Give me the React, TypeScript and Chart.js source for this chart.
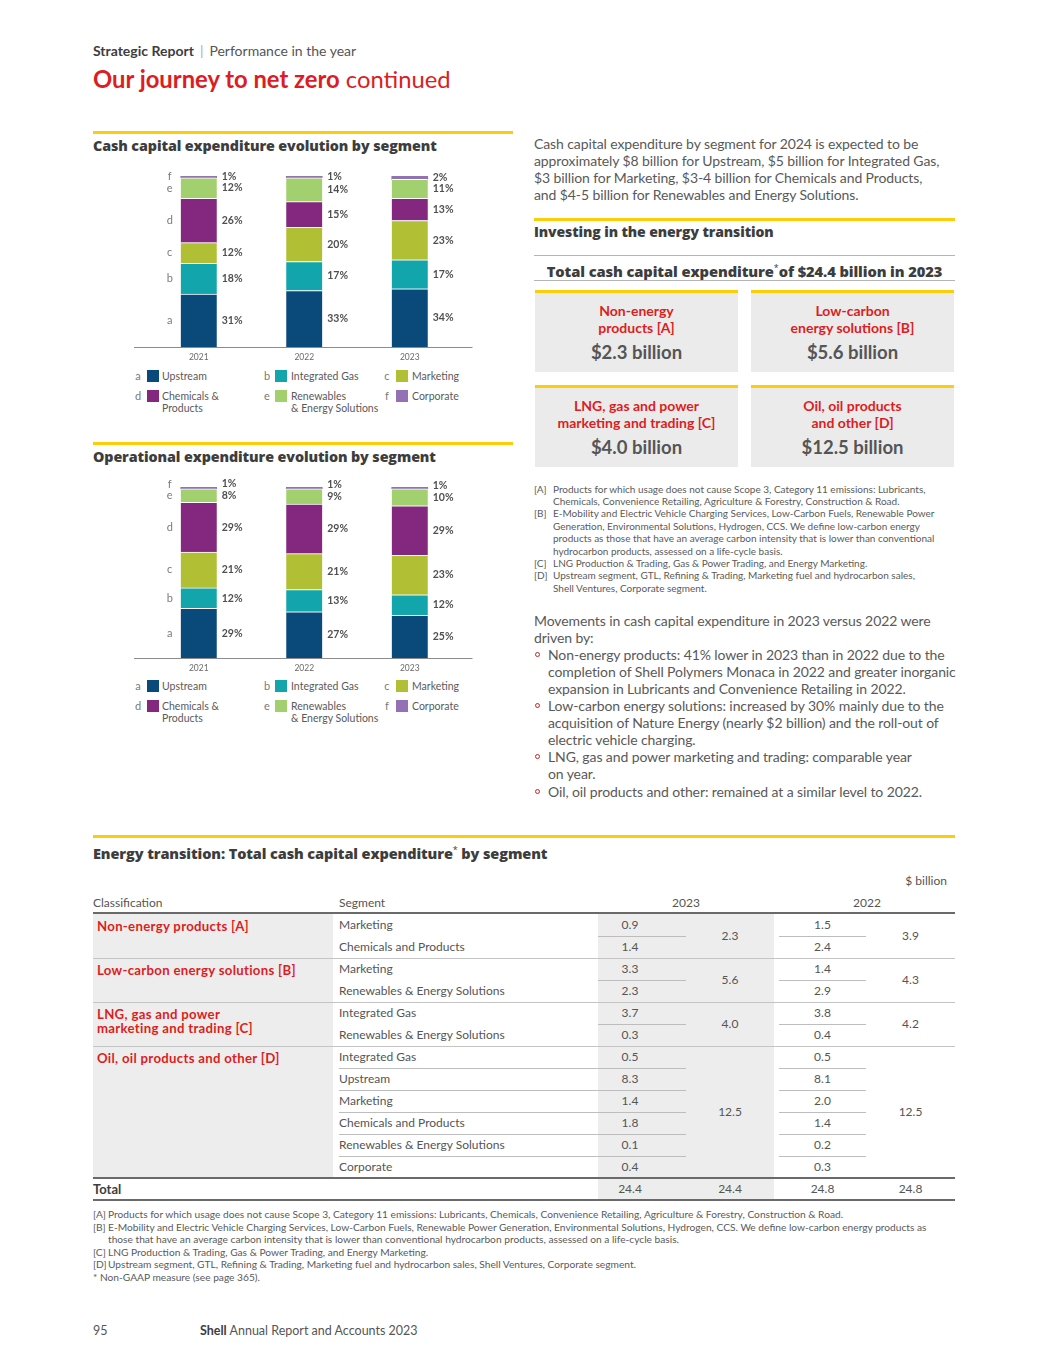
import React, { useEffect, useRef } from 'react';
import { Chart, registerables } from 'chart.js';

Chart.register(...registerables);

const FONT = "Lato, 'Open Sans', sans-serif";
const HEAD_FONT = "'Open Sans', Lato, sans-serif";
const RED = '#DD1D21';
const YELLOW = '#FBCE07';
const GRAY = '#595959';
const DARK = '#3d3d3d';

// ---------- chart data ----------
const years = ['2021', '2022', '2023'];
const segmentLetters = ['a', 'b', 'c', 'd', 'e', 'f'];
const segmentNames = ['Upstream', 'Integrated Gas', 'Marketing', 'Chemicals & Products', 'Renewables & Energy Solutions', 'Corporate'];
const legendLabels = ['Upstream', 'Integrated Gas', 'Marketing', 'Chemicals &\nProducts', 'Renewables\n& Energy Solutions', 'Corporate'];
const segmentColors = ['#0A4A7B', '#12A6AC', '#B1BF34', '#83277F', '#A3D06E', '#9471B4'];

const capexUpstream = [31, 33, 34];
const capexIntegratedGas = [18, 17, 17];
const capexMarketing = [12, 20, 23];
const capexChemicals = [26, 15, 13];
const capexRenewables = [12, 14, 11];
const capexCorporate = [1, 1, 2];

const opexUpstream = [29, 27, 25];
const opexIntegratedGas = [12, 13, 12];
const opexMarketing = [21, 21, 23];
const opexChemicals = [29, 29, 29];
const opexRenewables = [8, 9, 10];
const opexCorporate = [1, 1, 1];

// ---------- table data ----------
const classificationLabels = ['Non-energy products [A]', 'Low-carbon energy solutions [B]', 'LNG, gas and power\nmarketing and trading [C]', 'Oil, oil products and other [D]'];
const groupSegments = [
  ['Marketing', 'Chemicals and Products'],
  ['Marketing', 'Renewables & Energy Solutions'],
  ['Integrated Gas', 'Renewables & Energy Solutions'],
  ['Integrated Gas', 'Upstream', 'Marketing', 'Chemicals and Products', 'Renewables & Energy Solutions', 'Corporate'],
];
const groupValues2023 = [[0.9, 1.4], [3.3, 2.3], [3.7, 0.3], [0.5, 8.3, 1.4, 1.8, 0.1, 0.4]];
const groupValues2022 = [[1.5, 2.4], [1.4, 2.9], [3.8, 0.4], [0.5, 8.1, 2.0, 1.4, 0.2, 0.3]];
const groupTotals2023 = [2.3, 5.6, 4.0, 12.5];
const groupTotals2022 = [3.9, 4.3, 4.2, 12.5];
const grandTotal2023 = 24.4;
const grandTotal2022 = 24.8;

const boxTitles = ['Non-energy\nproducts [A]', 'Low-carbon\nenergy solutions [B]', 'LNG, gas and power\nmarketing and trading [C]', 'Oil, oil products\nand other [D]'];
const boxValues = ['$2.3 billion', '$5.6 billion', '$4.0 billion', '$12.5 billion'];

// ---------- chart plugin ----------
const segLabelPlugin = {
  id: 'segLabels',
  afterDatasetsDraw(chart: any) {
    const { ctx, chartArea } = chart;
    const xScale = chart.scales.x;
    ctx.save();
    const by = Math.round(chartArea.bottom) + 0.5;
    ctx.strokeStyle = '#8c8c8c';
    ctx.lineWidth = 1;
    ctx.beginPath();
    ctx.moveTo(chartArea.left - 12, by);
    ctx.lineTo(chartArea.right + 10, by);
    ctx.stroke();

    ctx.textBaseline = 'middle';
    ctx.textAlign = 'center';
    ctx.fillStyle = '#6a6a6a';
    ctx.font = `8.5px ${FONT}`;
    chart.data.labels.forEach((lab: string, i: number) => {
      ctx.fillText(lab, xScale.getPixelForValue(i), chartArea.bottom + 10);
    });

    const nd = chart.data.datasets.length;
    for (let j = 0; j < chart.data.labels.length; j++) {
      const ys: number[] = [];
      for (let i = 0; i < nd; i++) {
        const el = chart.getDatasetMeta(i).data[j];
        let y = (el.y + el.base) / 2;
        if (i > 0 && ys[i - 1] - y < 11.5) y = ys[i - 1] - 11.5;
        ys.push(y);
      }
      for (let i = 0; i < nd; i++) {
        const el = chart.getDatasetMeta(i).data[j];
        const v = chart.data.datasets[i].data[j];
        ctx.textAlign = 'left';
        ctx.fillStyle = '#505050';
        ctx.font = `bold 10.5px ${FONT}`;
        ctx.fillText(`${v}%`, el.x + el.width / 2 + 5, ys[i]);
        if (j === 0) {
          ctx.textAlign = 'center';
          ctx.fillStyle = '#7a7a7a';
          ctx.font = `11px ${FONT}`;
          ctx.fillText(segmentLetters[i], el.x - el.width / 2 - 11, ys[i]);
        }
      }
    }
    ctx.restore();
  },
};

function StackedChart({ top, series }: { top: number; series: number[][] }) {
  const ref = useRef<HTMLCanvasElement | null>(null);
  useEffect(() => {
    if (!ref.current) return;
    const chart = new Chart(ref.current, {
      type: 'bar',
      data: {
        labels: years,
        datasets: series.map((vals, i) => ({
          label: segmentNames[i],
          data: vals,
          backgroundColor: segmentColors[i],
          borderColor: '#ffffff',
          borderWidth: i === series.length - 1 ? 0 : { top: 1, right: 0, bottom: 0, left: 0 },
          borderSkipped: false,
          barThickness: 36,
        })),
      },
      options: {
        responsive: false,
        animation: false,
        layout: { padding: { top: 16, bottom: 18, left: 53, right: 50.5 } },
        plugins: { legend: { display: false }, tooltip: { enabled: false } },
        scales: {
          x: { stacked: true, display: false },
          y: { stacked: true, display: false, min: 0, max: 100 },
        },
      } as any,
      plugins: [segLabelPlugin as any],
    });
    return () => chart.destroy();
  }, []);
  return (
    <canvas
      ref={ref}
      width={420}
      height={205}
      style={{ position: 'absolute', left: 93, top, width: 420, height: 205 }}
    />
  );
}

// ---------- helpers ----------
function Txt({ x, y, lh = 16, size = 13, weight = 400, color = GRAY, align = 'left', w, children, style }: any) {
  return (
    <div
      style={{
        position: 'absolute',
        left: x,
        top: y - lh / 2,
        lineHeight: lh + 'px',
        fontSize: size,
        fontWeight: weight,
        color,
        whiteSpace: 'pre',
        textAlign: align,
        width: w,
        ...style,
      }}
    >
      {children}
    </div>
  );
}

function HLine({ x1, x2, y, h = 1, color = '#c4c4c4' }: any) {
  return <div style={{ position: 'absolute', left: x1, top: y, width: x2 - x1, height: h, background: color }} />;
}

function Rect({ x, y, w, h, color }: any) {
  return <div style={{ position: 'absolute', left: x, top: y, width: w, height: h, background: color }} />;
}

const headStyle = { fontFamily: HEAD_FONT, letterSpacing: -0.1 };

function Legend({ top }: { top: number }) {
  const cols = [
    { lx: 138, sx: 147, tx: 162 },
    { lx: 267, sx: 275, tx: 291 },
    { lx: 387, sx: 396, tx: 412 },
  ];
  return (
    <>
      {segmentNames.map((_, i) => {
        const c = cols[i % 3];
        const cy = top + Math.floor(i / 3) * 20;
        return (
          <React.Fragment key={i}>
            <Txt x={c.lx - 6} w={12} align="center" y={cy} lh={14} size={11} color="#7a7a7a">
              {segmentLetters[i]}
            </Txt>
            <Rect x={c.sx} y={cy - 6} w={12} h={12} color={segmentColors[i]} />
            <div
              style={{
                position: 'absolute',
                left: c.tx,
                top: cy - 6,
                lineHeight: '12px',
                fontSize: 10.5,
                color: '#5a5a5a',
                whiteSpace: 'pre',
              }}
            >
              {legendLabels[i]}
            </div>
          </React.Fragment>
        );
      })}
    </>
  );
}

function Bullet({ y }: { y: number }) {
  return (
    <div
      style={{
        position: 'absolute',
        left: 535,
        top: y - 2.5,
        width: 5,
        height: 5,
        borderRadius: '50%',
        border: `1px solid ${RED}`,
        boxSizing: 'border-box',
      }}
    />
  );
}

const fmt = (v: number) => v.toFixed(1);

function Table() {
  const rowH = 22;
  const top = 914;
  const els: any[] = [];
  let r = 0;
  els.push(<Rect key="bgc" x={93} y={top} w={240} h={264} color="#EDEDED" />);
  els.push(<Rect key="bg23" x={598} y={top} w={176} h={285} color="#EDEDED" />);
  classificationLabels.forEach((cl, g) => {
    const segs = groupSegments[g];
    const gTop = top + r * rowH;
    els.push(
      <div
        key={'cl' + g}
        style={{
          position: 'absolute',
          left: 97,
          top: gTop + 5,
          lineHeight: '14px',
          fontSize: 13.2,
          fontWeight: 700,
          letterSpacing: 0.3,
          color: RED,
          whiteSpace: 'pre',
        }}
      >
        {cl}
      </div>
    );
    segs.forEach((s, k) => {
      const cy = top + (r + k) * rowH + 11;
      els.push(<Txt key={`s${g}-${k}`} x={339} y={cy} lh={16} size={12} color="#555">{s}</Txt>);
      els.push(<Txt key={`a${g}-${k}`} x={598} w={64} align="center" y={cy} lh={16} size={12} color="#555">{fmt(groupValues2023[g][k])}</Txt>);
      els.push(<Txt key={`b${g}-${k}`} x={779} w={87} align="center" y={cy} lh={16} size={12} color="#555">{fmt(groupValues2022[g][k])}</Txt>);
      if (k < segs.length - 1) {
        const ly = top + (r + k + 1) * rowH;
        els.push(<HLine key={`l1${g}-${k}`} x1={g === 3 ? 339 : 598} x2={686} y={ly} color="#bdbdbd" />);
        els.push(<HLine key={`l2${g}-${k}`} x1={779} x2={866} y={ly} color="#bdbdbd" />);
      }
    });
    const midY = gTop + (segs.length * rowH) / 2;
    els.push(<Txt key={'t23' + g} x={686} w={88} align="center" y={midY} lh={16} size={12} color="#555">{fmt(groupTotals2023[g])}</Txt>);
    els.push(<Txt key={'t22' + g} x={866} w={89} align="center" y={midY} lh={16} size={12} color="#555">{fmt(groupTotals2022[g])}</Txt>);
    r += segs.length;
    if (g < classificationLabels.length - 1) {
      els.push(<HLine key={'gl' + g} x1={93} x2={955} y={top + r * rowH} color="#c4c4c4" />);
    }
  });
  const totTop = top + r * rowH;
  els.push(<HLine key="tl1" x1={93} x2={955} y={totTop - 1} h={2} color="#6a6a6a" />);
  const ty = totTop + 10.5;
  els.push(<Txt key="tt" x={93} y={ty} lh={16} size={13} weight={700} color="#3d3d3d">Total</Txt>);
  els.push(<Txt key="tv1" x={598} w={64} align="center" y={ty} lh={16} size={12} color="#555">{fmt(grandTotal2023)}</Txt>);
  els.push(<Txt key="tv2" x={686} w={88} align="center" y={ty} lh={16} size={12} color="#555">{fmt(grandTotal2023)}</Txt>);
  els.push(<Txt key="tv3" x={779} w={87} align="center" y={ty} lh={16} size={12} color="#555">{fmt(grandTotal2022)}</Txt>);
  els.push(<Txt key="tv4" x={866} w={89} align="center" y={ty} lh={16} size={12} color="#555">{fmt(grandTotal2022)}</Txt>);
  els.push(<HLine key="tl2" x1={93} x2={955} y={totTop + 21} h={2} color="#6a6a6a" />);
  return <>{els}</>;
}

export default function App() {
  const capex = [capexUpstream, capexIntegratedGas, capexMarketing, capexChemicals, capexRenewables, capexCorporate];
  const opex = [opexUpstream, opexIntegratedGas, opexMarketing, opexChemicals, opexRenewables, opexCorporate];
  const bodyStyle = { fontSize: 14, letterSpacing: -0.1 };
  const para1 = [
    'Cash capital expenditure by segment for 2024 is expected to be',
    'approximately $8 billion for Upstream, $5 billion for Integrated Gas,',
    '$3 billion for Marketing, $3-4 billion for Chemicals and Products,',
    'and $4-5 billion for Renewables and Energy Solutions.',
  ];
  const notesRight = [
    ['[A]', 'Products for which usage does not cause Scope 3, Category 11 emissions: Lubricants,'],
    ['', 'Chemicals, Convenience Retailing, Agriculture & Forestry, Construction & Road.'],
    ['[B]', 'E-Mobility and Electric Vehicle Charging Services, Low-Carbon Fuels, Renewable Power'],
    ['', 'Generation, Environmental Solutions, Hydrogen, CCS. We define low-carbon energy'],
    ['', 'products as those that have an average carbon intensity that is lower than conventional'],
    ['', 'hydrocarbon products, assessed on a life-cycle basis.'],
    ['[C]', 'LNG Production & Trading, Gas & Power Trading, and Energy Marketing.'],
    ['[D]', 'Upstream segment, GTL, Refining & Trading, Marketing fuel and hydrocarbon sales,'],
    ['', 'Shell Ventures, Corporate segment.'],
  ];
  const movements: [boolean, string][] = [
    [false, 'Movements in cash capital expenditure in 2023 versus 2022 were'],
    [false, 'driven by:'],
    [true, 'Non-energy products: 41% lower in 2023 than in 2022 due to the'],
    [false, 'completion of Shell Polymers Monaca in 2022 and greater inorganic'],
    [false, 'expansion in Lubricants and Convenience Retailing in 2022.'],
    [true, 'Low-carbon energy solutions: increased by 30% mainly due to the'],
    [false, 'acquisition of Nature Energy (nearly $2 billion) and the roll-out of'],
    [false, 'electric vehicle charging.'],
    [true, 'LNG, gas and power marketing and trading: comparable year'],
    [false, 'on year.'],
    [true, 'Oil, oil products and other: remained at a similar level to 2022.'],
  ];
  const notesBottom = [
    ['[A]', 'Products for which usage does not cause Scope 3, Category 11 emissions: Lubricants, Chemicals, Convenience Retailing, Agriculture & Forestry, Construction & Road.'],
    ['[B]', 'E-Mobility and Electric Vehicle Charging Services, Low-Carbon Fuels, Renewable Power Generation, Environmental Solutions, Hydrogen, CCS. We define low-carbon energy products as'],
    ['', 'those that have an average carbon intensity that is lower than conventional hydrocarbon products, assessed on a life-cycle basis.'],
    ['[C]', 'LNG Production & Trading, Gas & Power Trading, and Energy Marketing.'],
    ['[D]', 'Upstream segment, GTL, Refining & Trading, Marketing fuel and hydrocarbon sales, Shell Ventures, Corporate segment.'],
  ];
  const boxes = [
    { x: 535, y: 290 },
    { x: 751, y: 290 },
    { x: 535, y: 385 },
    { x: 751, y: 385 },
  ];

  return (
    <div
      style={{
        position: 'absolute',
        left: 0,
        top: 0,
        width: 1048,
        height: 1365,
        background: '#ffffff',
        fontFamily: FONT,
        color: GRAY,
        overflow: 'hidden',
      }}
    >
      {/* header */}
      <Txt x={93} y={51} lh={16} size={14} color={DARK}>
        <span style={{ fontWeight: 700 }}>Strategic Report</span>
        <span style={{ color: '#aaa', margin: '0 6px' }}>|</span>
        <span style={{ color: '#555' }}>Performance in the year</span>
      </Txt>
      <Txt x={93} y={79} lh={28} size={23.8} color={RED}>
        <span style={{ fontWeight: 700 }}>Our journey to net zero</span> continued
      </Txt>

      {/* left: capex chart */}
      <HLine x1={93} x2={513} y={131} h={3} color={YELLOW} />
      <Txt x={93} y={146} lh={18} size={14.3} weight={800} color={DARK} style={headStyle}>Cash capital expenditure evolution by segment</Txt>
      <StackedChart top={160} series={capex} />
      <Legend top={376} />

      {/* left: opex chart */}
      <HLine x1={93} x2={513} y={442} h={3} color={YELLOW} />
      <Txt x={93} y={457} lh={18} size={14.3} weight={800} color={DARK} style={headStyle}>Operational expenditure evolution by segment</Txt>
      <StackedChart top={471} series={opex} />
      <Legend top={686} />

      {/* right column */}
      {para1.map((l, i) => (
        <Txt key={'p' + i} x={534} y={143 + i * 17} lh={17} style={bodyStyle}>{l}</Txt>
      ))}
      <HLine x1={534} x2={955} y={218} h={3} color={YELLOW} />
      <Txt x={534} y={232} lh={18} size={14} weight={800} color={DARK} style={headStyle}>Investing in the energy transition</Txt>
      <HLine x1={534} x2={955} y={255} color="#b5b5b5" />
      <Txt x={534} w={421} align="center" y={268} lh={18} size={14.7} weight={800} color={DARK} style={headStyle}>
        Total cash capital expenditure<sup style={{ fontSize: 9, fontWeight: 400 }}>*</sup>of $24.4 billion in 2023
      </Txt>
      <HLine x1={534} x2={955} y={280} color="#b5b5b5" />
      {boxes.map((b, i) => (
        <React.Fragment key={'box' + i}>
          <Rect x={b.x} y={b.y} w={203} h={82} color="#EBEBEB" />
          <Rect x={b.x} y={b.y} w={203} h={3} color={YELLOW} />
          <div
            style={{
              position: 'absolute',
              left: b.x,
              top: b.y + 11.5,
              width: 203,
              textAlign: 'center',
              lineHeight: '17px',
              fontSize: 14,
              fontWeight: 700,
              color: RED,
              whiteSpace: 'pre',
            }}
          >
            {boxTitles[i]}
          </div>
          <Txt x={b.x} w={203} align="center" y={b.y + 62} lh={22} size={18.5} weight={700} color="#555">
            {boxValues[i]}
          </Txt>
        </React.Fragment>
      ))}
      {notesRight.map(([k, t], i) => (
        <React.Fragment key={'nr' + i}>
          {k && <Txt x={534} y={488.5 + i * 12.4} lh={12} size={10} color="#5a5a5a">{k}</Txt>}
          <Txt x={553} y={488.5 + i * 12.4} lh={12} size={10} color="#5a5a5a">{t}</Txt>
        </React.Fragment>
      ))}
      {movements.map(([b, t], i) => (
        <React.Fragment key={'m' + i}>
          {b && <Bullet y={620 + i * 17.1} />}
          <Txt x={i < 2 ? 534 : 548} y={620 + i * 17.1} lh={17} style={bodyStyle}>{t}</Txt>
        </React.Fragment>
      ))}

      {/* table */}
      <HLine x1={93} x2={955} y={835} h={3} color={YELLOW} />
      <Txt x={93} y={850} lh={18} size={14.5} weight={800} color={DARK} style={headStyle}>
        Energy transition: Total cash capital expenditure<sup style={{ fontSize: 9, fontWeight: 400 }}>*</sup> by segment
      </Txt>
      <Txt x={847} w={100} align="right" y={881} lh={16} size={12} color="#555">$ billion</Txt>
      <Txt x={93} y={903} lh={16} size={12} color="#555">Classification</Txt>
      <Txt x={339} y={903} lh={16} size={12} color="#555">Segment</Txt>
      <Txt x={598} w={176} align="center" y={903} lh={16} size={12} color="#555">2023</Txt>
      <Txt x={779} w={176} align="center" y={903} lh={16} size={12} color="#555">2022</Txt>
      <HLine x1={93} x2={955} y={912} h={2} color="#6a6a6a" />
      <Table />

      {/* bottom notes */}
      {notesBottom.map(([k, t], i) => (
        <React.Fragment key={'nb' + i}>
          {k && <Txt x={93} y={1214 + i * 12.5} lh={12} size={10.2} color="#5a5a5a">{k}</Txt>}
          <Txt x={108} y={1214 + i * 12.5} lh={12} size={10.2} color="#5a5a5a">{t}</Txt>
        </React.Fragment>
      ))}
      <Txt x={93} y={1214 + 5 * 12.5} lh={12} size={10.2} color="#5a5a5a">* Non-GAAP measure (see page 365).</Txt>

      {/* footer */}
      <Txt x={93} y={1331} lh={16} size={12.5} color="#555">95</Txt>
      <Txt x={200} y={1331} lh={16} size={12.5} color="#555">
        <span style={{ fontWeight: 700, color: DARK }}>Shell</span> Annual Report and Accounts 2023
      </Txt>
    </div>
  );
}
